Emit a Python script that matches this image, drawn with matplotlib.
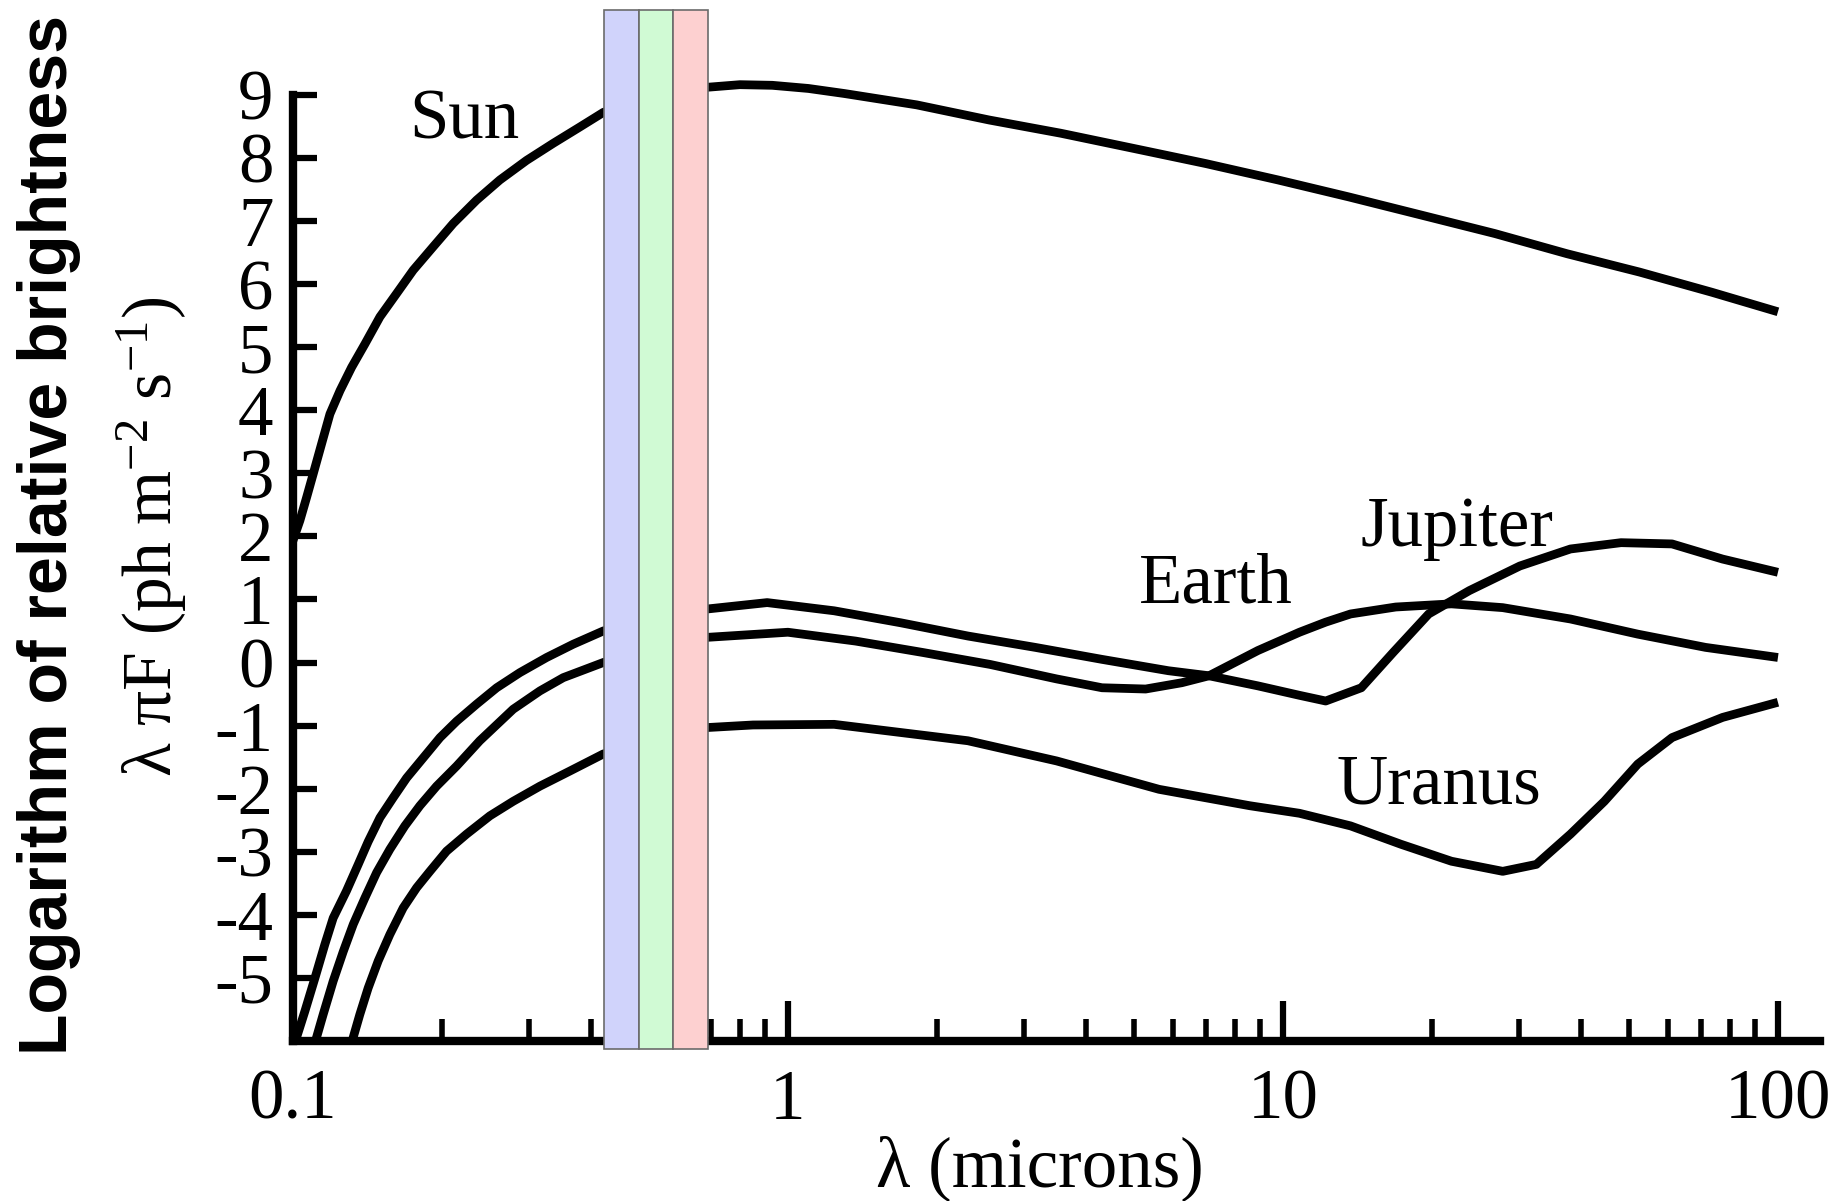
import matplotlib
matplotlib.use("Agg")
import matplotlib.pyplot as plt
from matplotlib.patches import Rectangle
from matplotlib.ticker import FixedLocator, FixedFormatter, NullFormatter

plt.rcParams['font.family'] = ['Liberation Serif', 'DejaVu Serif']
plt.rcParams['mathtext.fontset'] = 'custom'
plt.rcParams['mathtext.rm'] = 'Liberation Serif'
plt.rcParams['mathtext.it'] = 'Liberation Serif:italic'
plt.rcParams['mathtext.bf'] = 'Liberation Serif:bold'
plt.rcParams['axes.unicode_minus'] = False

# wavelength (microns) and log brightness
sun_wl = [0.100, 0.1033, 0.1066, 0.1099, 0.1143, 0.1188, 0.1245, 0.1314, 0.1398, 0.1499,
          0.1620, 0.1750, 0.1920, 0.2108, 0.2350, 0.2619, 0.2965, 0.3356, 0.3800, 0.4236,
          0.50, 0.60, 0.69, 0.80, 0.93, 1.10, 1.30, 1.82, 2.55, 3.56,
          4.99, 6.98, 9.77, 13.6, 19.1, 26.8, 37.5, 52.5, 73.5, 100]
sun_val = [1.93, 2.25, 2.62, 2.99, 3.47, 3.94, 4.31, 4.68, 5.05, 5.48,
           5.85, 6.22, 6.59, 6.96, 7.33, 7.65, 7.96, 8.23, 8.49, 8.72,
           8.93, 9.07, 9.12, 9.16, 9.15, 9.10, 9.02, 8.84, 8.60, 8.39,
           8.15, 7.91, 7.65, 7.38, 7.09, 6.80, 6.48, 6.19, 5.87, 5.56]

jup_wl = [0.1009, 0.1057, 0.1108, 0.1160, 0.1206, 0.1283, 0.1355, 0.1419, 0.1499, 0.1595,
          0.1697, 0.1834, 0.1982, 0.2142, 0.2350, 0.2580, 0.2874, 0.3255, 0.3683, 0.4236,
          0.55, 0.69, 0.908, 1.24, 1.69, 2.31, 3.16, 4.31, 5.87, 7.09,
          8.9, 10.8, 12.2, 14.4, 16.7, 19.7, 23.8, 30.1, 38.1, 48.2,
          61.1, 77.3, 100]
jup_val = [-6.03, -5.53, -5.00, -4.47, -4.05, -3.62, -3.20, -2.84, -2.46, -2.14,
           -1.83, -1.51, -1.19, -0.93, -0.66, -0.40, -0.16, 0.08, 0.29, 0.50,
           0.72, 0.85, 0.95, 0.82, 0.63, 0.42, 0.24, 0.05, -0.13, -0.21,
           -0.37, -0.52, -0.61, -0.40, 0.16, 0.77, 1.14, 1.53, 1.80, 1.90,
           1.88, 1.64, 1.43]

earth_wl = [0.1108, 0.1151, 0.1206, 0.1264, 0.1324, 0.1398, 0.1476, 0.1570, 0.1683, 0.1805,
            0.1951, 0.2142, 0.2385, 0.2786, 0.3155, 0.3516, 0.4236, 0.55, 0.69, 1.0,
            1.37, 1.87, 2.56, 3.49, 4.31, 5.28, 6.25, 7.09, 8.9, 10.8,
            12.2, 13.7, 16.9, 21.9, 27.8, 38.1, 52.1, 71.4, 100]
earth_val = [-6.03, -5.58, -5.05, -4.58, -4.15, -3.73, -3.33, -2.96, -2.59, -2.27,
             -1.96, -1.64, -1.24, -0.74, -0.45, -0.24, 0.00, 0.28, 0.40, 0.48,
             0.34, 0.16, -0.03, -0.26, -0.40, -0.42, -0.32, -0.21, 0.19, 0.48,
             0.64, 0.77, 0.88, 0.93, 0.87, 0.69, 0.45, 0.24, 0.08]

ura_wl = [0.1314, 0.1365, 0.1419, 0.1487, 0.1570, 0.1670, 0.1778, 0.1891, 0.2044, 0.2243,
          0.2500, 0.2786, 0.3155, 0.3627, 0.4236, 0.55, 0.69, 0.85, 1.24, 2.31,
          3.49, 5.62, 8.57, 10.8, 13.7, 17.3, 21.9, 27.8, 32.5, 38.1,
          44.6, 52.1, 61.1, 77.3, 100]
ura_val = [-6.03, -5.58, -5.16, -4.73, -4.31, -3.89, -3.57, -3.31, -2.99, -2.72,
           -2.43, -2.20, -1.96, -1.72, -1.45, -1.20, -1.03, -0.99, -0.98, -1.24,
           -1.56, -2.01, -2.27, -2.39, -2.59, -2.88, -3.15, -3.31, -3.20, -2.72,
           -2.20, -1.61, -1.19, -0.87, -0.63]

# visible band (blue, green, red)
band_lo = [0.425, 0.50, 0.585]
band_hi = [0.50, 0.585, 0.69]
band_col = ['#d0d3fb', '#d0fad4', '#fdd0d0']

names = ['Sun', 'Earth', 'Jupiter', 'Uranus']
name_x = [0.2215, 7.33, 22.5, 20.7]
name_y = [8.31, 0.95, 1.85, -2.24]

fig = plt.figure(figsize=(18.33, 12.01), dpi=100)
ax = fig.add_axes([0.1598, 0.1332, 0.8331, 0.8588])
ax.set_xscale('log')

for wl, v in [(sun_wl, sun_val), (jup_wl, jup_val), (earth_wl, earth_val), (ura_wl, ura_val)]:
    ax.plot(wl, v, color='black', lw=6.3, solid_joinstyle='round', solid_capstyle='butt', zorder=3)

for lo, hi, c in zip(band_lo, band_hi, band_col):
    ax.add_patch(Rectangle((lo, -6.13), hi - lo, 16.48, facecolor=c, edgecolor='#6b6b6b',
                           lw=1.2, zorder=6, clip_on=False))

for n, x, y in zip(names, name_x, name_y):
    ax.text(x, y, n, ha='center', va='baseline', fontsize=51)

ax.set_xlim(0.1, 121.6)
ax.set_ylim(-6, 10.35)

ax.xaxis.set_major_locator(FixedLocator([0.1, 1, 10, 100]))
ax.xaxis.set_major_formatter(FixedFormatter(['0.1', '1', '10', '100']))
minors = [m * d for d in (0.1, 1, 10) for m in range(2, 10)]
ax.xaxis.set_minor_locator(FixedLocator(minors))
ax.xaxis.set_minor_formatter(NullFormatter())
ax.set_yticks(range(-5, 10))
ax.set_yticklabels([str(i) for i in range(-5, 10)])

ax.tick_params(axis='y', direction='in', length=17, width=4.5, pad=14, labelsize=51)
ax.tick_params(axis='x', which='major', direction='in', length=29, width=4.5, pad=20, labelsize=51)
ax.tick_params(axis='x', which='minor', direction='in', length=16, width=4)

ax.spines['top'].set_visible(False)
ax.spines['right'].set_visible(False)
ax.spines['left'].set_linewidth(6)
ax.spines['bottom'].set_linewidth(6)
ax.spines['left'].set_bounds(-6, 9)

fig.text(1040 / 1833, 1 - 1169 / 1201, 'λ (microns)', ha='center', va='center', fontsize=51)
fig.text(152 / 1833, 1 - 537 / 1201, r'λ πF (ph m$^{-2}$ s$^{-1}$)', rotation=90,
         ha='center', va='center', fontsize=50)
fig.text(49 / 1833, 1 - 535 / 1201, 'Logarithm of relative brightness', rotation=90,
         ha='center', va='center', fontsize=49, fontweight='bold',
         family=['Liberation Sans', 'DejaVu Sans'])

fig.savefig('out.png', dpi=100)
